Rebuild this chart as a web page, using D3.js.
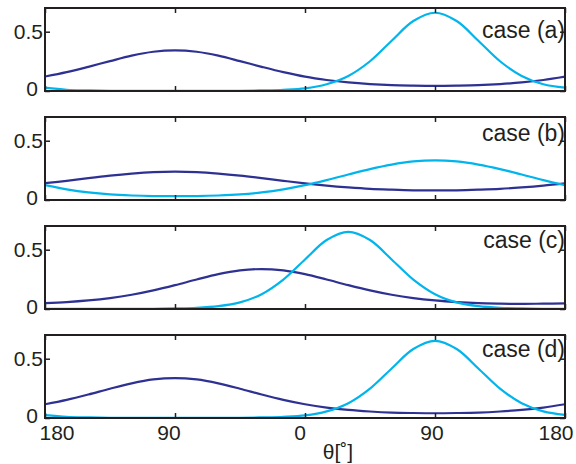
<!DOCTYPE html>
<html>
<head>
<meta charset="utf-8">
<script src="https://cdn.jsdelivr.net/npm/d3@7"></script>
<style>
  html, body { margin: 0; padding: 0; background: #fff; }
  svg { display: block; }
  text { font-family: "Liberation Sans", Arial, sans-serif; fill: #231f20; }
</style>
</head>
<body>
<svg id="chart" width="576" height="464"></svg>
<script>
// ---- data ----
const theta = [-180,-165,-150,-135,-120,-105,-90,-75,-60,-45,-30,-15,0,15,30,45,60,75,90,105,120,135,150,165,180];

const navyA = [0.122,0.159,0.204,0.252,0.298,0.331,0.343,0.331,0.298,0.252,0.204,0.159,0.121,0.093,0.072,0.058,0.049,0.045,0.043,0.045,0.049,0.058,0.072,0.093,0.122];
const cyanA = [0.028,0.010,0.005,0.002,0.001,0.001,0.001,0.001,0.001,0.002,0.005,0.010,0.022,0.057,0.127,0.251,0.424,0.590,0.660,0.590,0.424,0.251,0.127,0.057,0.028];

const navyB = [0.142,0.162,0.185,0.206,0.223,0.235,0.239,0.235,0.223,0.206,0.185,0.162,0.140,0.121,0.106,0.094,0.087,0.082,0.081,0.082,0.087,0.094,0.106,0.121,0.140];
const cyanB = [0.125,0.090,0.064,0.047,0.038,0.033,0.032,0.033,0.038,0.047,0.064,0.090,0.125,0.168,0.215,0.261,0.299,0.325,0.334,0.325,0.299,0.261,0.215,0.168,0.125];

const navyC = [0.049,0.058,0.072,0.092,0.120,0.157,0.201,0.249,0.294,0.325,0.337,0.325,0.294,0.249,0.201,0.157,0.120,0.092,0.072,0.058,0.049,0.045,0.043,0.045,0.047];
const cyanC = [0.001,0.001,0.001,0.001,0.001,0.002,0.005,0.010,0.024,0.056,0.125,0.248,0.418,0.582,0.651,0.582,0.418,0.248,0.125,0.056,0.024,0.010,0.005,0.002,0.001];

const navyD = [0.116,0.153,0.198,0.247,0.292,0.325,0.337,0.325,0.292,0.247,0.198,0.153,0.116,0.088,0.068,0.055,0.046,0.042,0.040,0.042,0.046,0.055,0.068,0.088,0.116];
const cyanD = [0.024,0.010,0.005,0.002,0.001,0.001,0.001,0.001,0.001,0.002,0.005,0.010,0.022,0.056,0.125,0.248,0.418,0.582,0.651,0.582,0.418,0.248,0.125,0.056,0.026];

const caseLabels = ["case (a)", "case (b)", "case (c)", "case (d)"];
const xTickValues = [-180, -90, 0, 90, 180];
const xTickLabels = ["180", "90", "0", "90", "180"];
const yTickValues = [0, 0.5];
const yTickLabels = ["0", "0.5"];
const xAxisTitle = "θ[˚]";

const panels = [
  { navy: navyA, cyan: cyanA },
  { navy: navyB, cyan: cyanB },
  { navy: navyC, cyan: cyanC },
  { navy: navyD, cyan: cyanD }
];

// ---- layout ----
const svg = d3.select("#chart");
const left = 45, right = 565;
const panelTop0 = 8, panelStep = 109, panelH = 83;
const caseBaseline = [29.5, 23.5, 21.5, 21.5];
const navyColor = "#2e3192", cyanColor = "#00b4ec", ink = "#231f20";

const x = d3.scaleLinear().domain([-180, 180]).range([left, right]);

panels.forEach((p, i) => {
  const top = panelTop0 + i * panelStep;
  const bottom = top + panelH;
  const y = d3.scaleLinear().domain([0, 0.7]).range([bottom, top]);
  const g = svg.append("g");

  const clipId = "clip" + i;
  svg.append("clipPath").attr("id", clipId)
    .append("rect").attr("x", left).attr("y", top).attr("width", right - left).attr("height", panelH);

  const line = d3.line()
    .x((d, j) => x(theta[j]))
    .y(d => y(d))
    .curve(d3.curveCatmullRom.alpha(0.5));

  const lines = g.append("g").attr("clip-path", `url(#${clipId})`);
  lines.append("path").datum(p.navy).attr("d", line)
    .attr("fill", "none").attr("stroke", navyColor).attr("stroke-width", 2.2);
  lines.append("path").datum(p.cyan).attr("d", line)
    .attr("fill", "none").attr("stroke", cyanColor).attr("stroke-width", 2.2);

  // case label
  g.append("text").attr("x", right).attr("y", top + caseBaseline[i])
    .attr("text-anchor", "end").attr("font-size", 23).text(caseLabels[i]);

  // ticks (inward) via d3 axes
  const tickStyle = sel => {
    sel.select(".domain").remove();
    sel.selectAll("line").attr("stroke", ink).attr("stroke-width", 1.5);
    sel.selectAll("text").remove();
  };
  g.append("g").attr("transform", `translate(0,${bottom})`)
    .call(d3.axisTop(x).tickValues(xTickValues).tickSize(5)).call(tickStyle);
  g.append("g").attr("transform", `translate(0,${top})`)
    .call(d3.axisBottom(x).tickValues(xTickValues).tickSize(5)).call(tickStyle);
  g.append("g").attr("transform", `translate(${left},0)`)
    .call(d3.axisRight(y).tickValues(yTickValues).tickSize(5)).call(tickStyle);
  g.append("g").attr("transform", `translate(${right},0)`)
    .call(d3.axisLeft(y).tickValues(yTickValues).tickSize(5)).call(tickStyle);

  // y tick labels
  const yLabelEnd = [38, 43];
  const yLabelDy = [-3, 0];
  yTickValues.forEach((v, k) => {
    g.append("text").attr("x", yLabelEnd[k]).attr("y", y(v) + yLabelDy[k]).attr("dy", "0.36em")
      .attr("text-anchor", "end").attr("font-size", 21).text(yTickLabels[k]);
  });

  // frame
  g.append("rect").attr("x", left).attr("y", top).attr("width", right - left).attr("height", panelH)
    .attr("fill", "none").attr("stroke", ink).attr("stroke-width", 2);

  if (i === panels.length - 1) {
    const xLabelShift = [12, -6, -5, -3, -9];
    xTickValues.forEach((v, k) => {
      g.append("text").attr("x", x(v) + xLabelShift[k]).attr("y", bottom + 22)
        .attr("text-anchor", "middle").attr("font-size", 21).text(xTickLabels[k]);
    });
    g.append("text").attr("x", 338).attr("y", 459)
      .attr("text-anchor", "middle").attr("font-size", 21).text(xAxisTitle);
  }
});
</script>
</body>
</html>
